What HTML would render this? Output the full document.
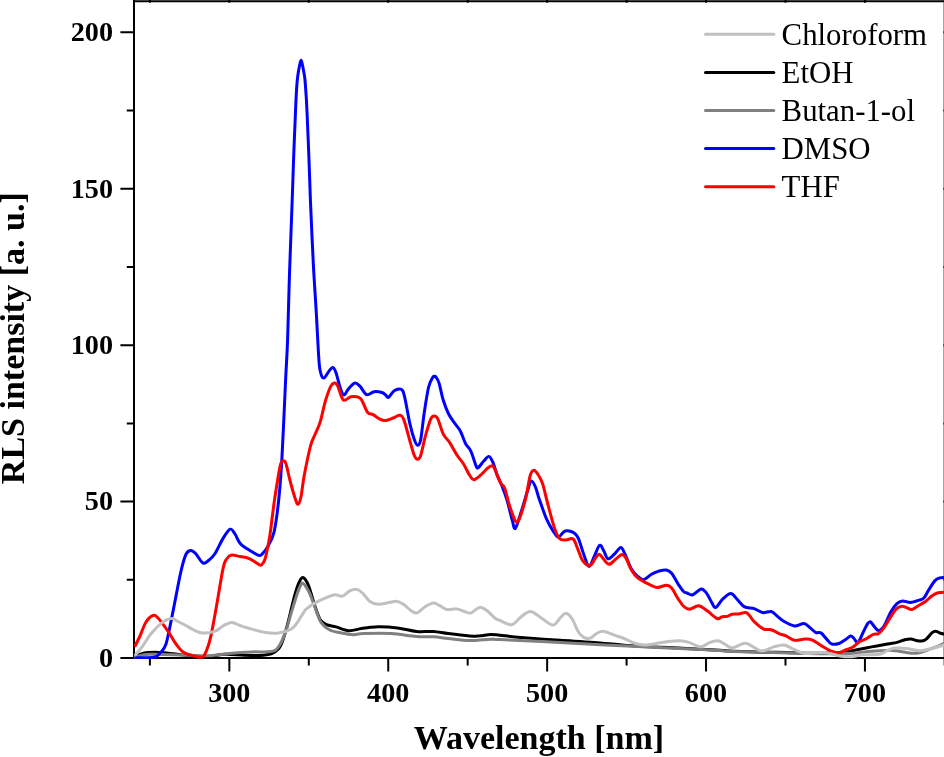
<!DOCTYPE html>
<html lang="en"><head><meta charset="utf-8"><title>RLS intensity vs wavelength</title>
<style>html,body{margin:0;padding:0;background:#fff}body{width:944px;height:757px;overflow:hidden}svg{display:block}text{font-family:"Liberation Serif","Times New Roman",serif;fill:#000}.tk{font-weight:bold;font-size:28.2px}.ax{font-weight:bold;font-size:34px}.lg{font-size:30.8px}.c{fill:none;stroke-width:3;stroke-linejoin:round;stroke-linecap:butt}</style></head><body>
<svg width="944" height="757" viewBox="0 0 944 757">
<rect width="944" height="757" fill="#fff"/>
<g stroke="#000" stroke-width="2" fill="none">
<path d="M133.00 1.25H945.5M944.65 0V665.4"/>
<path d="M134.00 0V659.05"/>
<path d="M120.4 658.05H946"/>
<path d="M120.4 501.62H134.00M120.4 345.20H134.00M120.4 188.77H134.00M120.4 32.35H134.00M126.8 579.84H134.00M126.8 423.41H134.00M126.8 266.99H134.00M126.8 110.56H134.00M229.34 658.05V671.6M388.24 658.05V671.6M547.14 658.05V671.6M706.04 658.05V671.6M864.94 658.05V671.6M149.89 658.05V665.4M308.79 658.05V665.4M467.69 658.05V665.4M626.59 658.05V665.4M785.49 658.05V665.4M943.45 579.84H946M943.45 501.62H946M943.45 423.41H946M943.45 345.20H946M943.45 266.99H946M943.45 188.77H946M943.45 110.56H946M943.45 32.35H946M149.89 0V2.7M229.34 0V2.7M308.79 0V2.7M388.24 0V2.7M467.69 0V2.7M547.14 0V2.7M626.59 0V2.7M706.04 0V2.7M785.49 0V2.7M864.94 0V2.7"/>
</g>
<clipPath id="cp"><rect x="134" y="0" width="812" height="659.1"/></clipPath>
<g class="c" clip-path="url(#cp)">
<path d="M134.2 657.2C135.7 656.5 139.2 654.0 143.3 653.2C147.4 652.4 153.5 652.3 158.6 652.4C163.7 652.5 168.2 653.1 173.9 653.8C179.6 654.4 186.9 655.9 192.9 656.3C198.9 656.7 204.6 656.6 210.0 656.3C215.4 656.0 219.6 654.5 225.3 654.3C231.0 654.1 238.0 655.1 244.4 655.3C250.8 655.5 258.7 655.7 263.5 655.3C268.3 654.9 270.1 654.6 273.0 653.0C275.9 651.4 278.4 649.9 280.6 645.8C282.8 641.7 284.5 635.3 286.4 628.6C288.3 621.9 290.6 611.6 292.1 605.7C293.6 599.8 294.1 597.2 295.3 593.2C296.5 589.2 298.2 584.1 299.5 581.5C300.8 578.9 301.7 577.0 303.2 577.7C304.7 578.4 306.6 580.9 308.5 585.6C310.4 590.3 312.9 600.1 314.8 605.7C316.7 611.4 318.2 616.3 320.1 619.5C322.1 622.7 323.9 623.5 326.5 624.7C329.1 625.9 332.3 625.9 336.0 626.9C339.7 627.9 344.5 630.4 348.7 630.7C352.9 631.0 357.0 629.2 361.4 628.6C365.8 628.0 369.2 627.0 375.2 626.9C381.2 626.8 390.6 627.1 397.5 627.9C404.4 628.7 410.5 630.9 416.5 631.5C422.5 632.1 428.2 631.1 433.5 631.5C438.8 631.9 442.3 632.9 448.3 633.6C454.3 634.4 464.2 635.6 469.5 636.0C474.8 636.4 476.5 636.0 480.0 635.8C483.5 635.5 487.4 634.6 490.7 634.5C494.0 634.4 494.9 634.8 500.0 635.3C505.1 635.8 511.0 636.6 521.0 637.4C531.0 638.2 547.9 639.5 560.0 640.3C572.1 641.1 582.6 641.5 593.9 642.4C605.2 643.3 616.5 644.7 627.8 645.5C639.1 646.3 650.4 646.7 661.7 647.3C673.0 647.9 685.9 648.4 695.6 648.9C705.3 649.4 713.8 649.9 720.0 650.3C726.2 650.7 725.5 650.9 733.0 651.2C740.5 651.5 755.9 652.0 764.7 652.2C773.5 652.4 779.0 652.2 786.0 652.4C793.0 652.6 800.0 653.2 807.0 653.3C814.0 653.4 822.0 653.1 828.3 653.0C834.6 652.9 840.0 652.9 844.6 652.4C849.2 651.9 851.2 650.9 855.7 650.0C860.2 649.1 866.3 647.9 871.6 646.9C876.9 645.9 883.2 644.8 887.4 644.0C891.6 643.2 894.0 643.1 896.9 642.4C899.8 641.7 902.4 640.3 904.8 639.7C907.2 639.1 909.3 638.8 911.2 638.9C913.1 639.0 914.0 640.1 916.0 640.4C918.0 640.7 921.3 641.1 923.1 640.8C924.9 640.5 925.5 639.8 927.0 638.5C928.5 637.2 930.3 634.1 931.8 632.9C933.3 631.7 934.3 631.2 935.8 631.3C937.2 631.3 938.8 632.7 940.5 633.2C942.2 633.7 945.1 634.3 946.0 634.5" stroke="#000"/>
<path d="M134.2 657.4C136.7 656.9 140.2 654.6 149.0 654.3C157.8 653.9 176.8 655.1 187.0 655.3C197.2 655.5 203.0 656.0 210.0 655.7C217.0 655.4 222.2 654.0 229.2 653.4C236.2 652.8 245.0 652.2 252.0 651.9C259.0 651.6 266.7 652.4 271.1 651.5C275.6 650.6 276.3 649.9 278.7 646.7C281.1 643.5 283.3 638.0 285.4 632.4C287.5 626.8 289.4 619.0 291.1 613.3C292.9 607.6 294.4 602.4 295.9 598.0C297.3 593.6 298.6 589.4 299.8 587.0C301.0 584.6 301.6 582.4 303.2 583.4C304.8 584.4 307.4 588.6 309.5 593.0C311.6 597.4 313.9 605.0 315.9 609.9C317.8 614.8 318.9 619.2 321.2 622.6C323.5 626.0 326.5 628.3 329.7 630.0C332.9 631.7 336.4 632.0 340.3 632.8C344.2 633.6 349.1 634.6 353.0 634.7C356.9 634.8 357.2 633.8 363.6 633.6C370.0 633.4 382.3 633.1 391.1 633.6C399.9 634.1 409.4 635.9 416.5 636.4C423.6 636.9 428.2 636.4 433.5 636.8C438.8 637.1 442.3 637.9 448.3 638.5C454.3 639.1 462.4 640.5 469.5 640.6C476.6 640.7 485.6 639.4 490.7 639.2C495.8 639.0 488.4 639.1 500.0 639.6C511.6 640.1 538.7 641.3 560.0 642.4C581.3 643.5 605.2 645.0 627.8 646.1C650.4 647.2 680.2 648.5 695.6 649.2C711.0 649.9 713.8 650.1 720.0 650.5C726.2 650.9 718.5 650.9 733.0 651.4C747.5 651.9 787.6 653.1 807.0 653.5C826.4 653.9 838.7 653.9 849.5 653.5C860.3 653.1 865.3 651.7 871.6 651.2C877.9 650.7 883.5 650.5 887.4 650.4C891.3 650.3 891.3 650.2 895.3 650.7C899.3 651.2 907.2 652.9 911.2 653.2C915.2 653.5 916.2 653.3 919.1 652.7C922.0 652.1 925.4 650.7 928.6 649.6C931.8 648.5 935.2 647.3 938.1 646.1C941.0 644.9 944.7 643.1 946.0 642.5" stroke="#808080"/>
<path d="M134.7 657.8C136.4 657.8 141.6 657.9 145.0 657.8C148.4 657.7 152.9 657.8 155.4 657.0C157.9 656.2 158.2 655.2 160.0 653.0C161.8 650.8 163.9 650.4 166.0 644.0C168.1 637.6 169.9 626.4 172.4 614.4C174.9 602.4 178.5 582.1 180.8 572.0C183.1 561.9 184.4 557.6 186.1 554.0C187.8 550.4 189.3 550.4 191.0 550.4C192.7 550.4 194.0 551.9 196.0 554.0C198.0 556.1 200.9 562.1 203.1 563.1C205.3 564.1 207.1 561.5 209.0 560.0C210.9 558.5 212.3 557.6 214.7 554.0C217.1 550.4 220.6 542.2 223.2 538.1C225.8 534.0 228.2 529.9 230.2 529.2C232.2 528.5 233.3 531.6 235.0 534.0C236.7 536.4 237.8 540.7 240.2 543.4C242.6 546.1 246.5 548.4 249.7 550.4C252.9 552.4 257.0 555.1 259.2 555.5C261.4 555.9 261.6 554.5 263.0 553.0C264.4 551.5 265.8 550.1 267.7 546.6C269.6 543.1 272.3 539.6 274.1 531.8C275.9 524.0 277.4 512.2 278.7 500.0C280.0 487.8 280.8 478.2 281.9 458.6C283.0 439.0 284.6 402.2 285.5 382.4C286.4 362.6 286.9 358.1 287.6 340.0C288.3 321.9 288.7 297.3 289.5 274.0C290.3 250.7 291.5 219.6 292.2 200.0C292.9 180.4 293.2 170.6 293.7 156.3C294.2 142.0 295.0 124.0 295.4 114.0C295.8 104.0 295.9 101.7 296.2 96.0C296.5 90.3 296.9 84.2 297.3 80.0C297.7 75.8 298.2 73.2 298.6 70.5C299.1 67.8 299.6 65.3 300.0 63.6C300.4 61.9 300.7 60.2 301.1 60.2C301.5 60.2 301.8 62.2 302.2 63.8C302.6 65.4 302.9 67.3 303.4 69.8C303.8 72.3 304.4 74.8 304.9 79.0C305.3 83.2 305.7 89.2 306.1 95.0C306.5 100.8 306.6 102.7 307.1 114.0C307.6 125.3 308.6 148.3 309.1 162.6C309.7 176.9 309.7 183.2 310.4 200.0C311.1 216.8 312.3 244.0 313.3 263.4C314.3 282.8 315.6 300.0 316.5 316.3C317.4 332.6 318.3 351.8 319.0 361.2C319.7 370.6 320.1 369.8 320.6 372.5C321.2 375.2 321.6 376.4 322.3 377.2C323.0 378.0 323.8 378.4 324.8 377.5C325.8 376.6 327.2 373.5 328.5 371.8C329.8 370.1 331.6 367.3 332.8 367.5C334.1 367.7 334.8 369.4 336.0 372.8C337.2 376.2 338.9 384.0 340.2 387.7C341.5 391.4 342.6 394.8 344.0 395.0C345.4 395.2 346.8 390.7 348.6 388.7C350.4 386.7 353.1 383.4 355.0 383.0C356.9 382.6 358.4 384.7 360.3 386.6C362.2 388.6 364.4 393.9 366.7 394.7C369.0 395.5 371.6 392.1 374.1 391.7C376.7 391.3 380.1 392.0 382.0 392.5C383.9 393.0 384.4 394.0 385.5 394.8C386.6 395.6 387.1 398.1 388.5 397.4C389.9 396.7 392.2 392.2 394.2 390.8C396.2 389.4 398.9 388.5 400.6 389.2C402.3 389.9 402.6 389.2 404.2 395.1C405.8 401.0 408.4 417.3 410.1 424.7C411.8 432.1 413.1 436.2 414.3 439.6C415.5 443.0 416.4 445.3 417.5 445.3C418.6 445.3 419.6 445.0 420.7 439.6C421.8 434.2 422.9 421.7 424.2 413.0C425.5 404.3 427.1 393.4 428.5 387.5C429.9 381.6 431.7 379.2 432.7 377.4C433.7 375.6 433.9 376.6 434.4 376.5C434.9 376.4 435.1 375.9 435.9 377.0C436.7 378.1 437.9 379.4 439.1 383.3C440.3 387.2 441.7 395.2 443.3 400.3C444.9 405.4 446.7 410.1 448.6 414.0C450.6 417.9 453.1 420.8 455.0 423.6C456.9 426.4 458.5 427.6 460.3 431.0C462.1 434.4 463.9 440.3 465.6 443.7C467.4 447.1 469.1 447.4 470.8 451.1C472.6 454.8 474.9 463.2 476.1 466.0C477.4 468.8 477.1 468.4 478.3 467.6C479.6 466.8 481.8 463.2 483.6 461.3C485.4 459.4 487.3 456.1 488.9 456.4C490.5 456.6 491.7 459.6 493.1 462.8C494.5 466.0 495.9 471.8 497.3 475.5C498.7 479.2 500.0 480.9 501.6 485.0C503.2 489.1 505.1 494.0 506.9 499.8C508.7 505.6 510.8 515.2 512.2 520.0C513.6 524.8 513.8 529.7 515.3 528.3C516.8 526.9 519.1 518.3 521.2 511.8C523.3 505.3 526.3 494.3 528.0 489.2C529.7 484.1 530.0 481.4 531.3 481.0C532.5 480.6 534.2 484.1 535.5 487.1C536.8 490.1 537.4 493.6 539.2 499.0C541.1 504.4 544.3 513.9 546.6 519.2C548.9 524.5 551.0 527.8 553.0 530.8C555.0 533.8 556.5 537.0 558.3 537.2C560.1 537.4 562.0 533.0 563.6 531.9C565.2 530.8 566.0 530.6 567.8 530.8C569.6 531.0 572.4 531.8 574.2 533.0C576.0 534.2 576.8 534.8 578.4 538.3C580.0 541.8 581.9 549.5 583.7 554.2C585.5 558.9 587.2 566.0 589.0 566.4C590.8 566.8 592.5 559.8 594.3 556.3C596.1 552.8 598.0 546.2 599.6 545.3C601.2 544.4 602.4 548.8 603.8 551.0C605.2 553.2 606.2 558.3 608.0 558.8C609.8 559.3 612.3 556.1 614.4 554.2C616.5 552.3 619.0 547.4 620.8 547.4C622.6 547.4 623.2 550.6 625.0 554.2C626.8 557.8 629.3 565.3 631.4 569.0C633.5 572.7 635.6 574.6 637.7 576.4C639.8 578.2 641.7 580.0 644.0 579.6C646.3 579.2 649.0 575.7 651.5 574.3C654.0 572.9 656.4 571.8 658.9 571.1C661.4 570.4 664.2 569.6 666.3 570.0C668.4 570.4 669.6 570.9 671.6 573.2C673.6 575.5 676.0 580.8 678.0 583.8C680.0 586.8 681.8 589.7 683.3 591.2C684.8 592.7 685.4 592.4 687.0 593.0C688.6 593.6 690.4 595.5 692.8 594.8C695.2 594.1 698.9 589.2 701.2 588.9C703.5 588.6 704.7 590.8 706.5 593.1C708.3 595.4 710.3 600.2 711.8 602.6C713.3 605.0 713.8 608.0 715.6 607.5C717.4 607.0 719.9 601.7 722.4 599.4C724.9 597.1 728.3 593.5 730.8 593.5C733.3 593.5 734.9 597.2 737.2 599.4C739.5 601.6 741.8 605.4 744.6 606.9C747.4 608.4 751.2 607.6 754.2 608.6C757.2 609.6 759.8 612.1 762.6 612.6C765.4 613.1 768.6 610.9 771.1 611.5C773.6 612.1 775.4 614.8 777.5 616.4C779.6 618.0 781.0 619.7 783.8 621.3C786.6 622.9 791.0 625.5 794.4 625.9C797.8 626.2 801.4 623.2 803.9 623.4C806.4 623.6 807.2 625.5 809.2 627.0C811.2 628.5 813.7 631.3 815.6 632.3C817.5 633.3 819.1 631.8 820.9 632.9C822.7 634.0 824.4 636.8 826.2 638.6C828.0 640.4 829.4 643.1 831.5 643.9C833.6 644.7 836.6 644.2 838.9 643.5C841.2 642.8 843.3 640.9 845.3 639.7C847.2 638.5 849.1 636.3 850.6 636.1C852.1 635.9 852.8 637.4 854.0 638.5C855.2 639.6 856.5 643.6 858.0 642.5C859.5 641.4 861.7 635.1 863.3 632.0C864.9 628.9 866.3 625.5 867.5 623.8C868.7 622.1 869.3 621.2 870.5 621.8C871.7 622.4 873.4 625.8 874.8 627.2C876.2 628.7 877.1 630.7 878.7 630.5C880.3 630.3 882.2 628.8 884.2 625.8C886.2 622.8 888.5 616.0 890.6 612.3C892.7 608.6 894.9 605.5 896.9 603.6C898.9 601.7 900.2 601.1 902.5 600.9C904.8 600.7 907.6 602.6 910.4 602.5C913.2 602.4 916.9 600.9 919.1 600.1C921.4 599.4 922.3 599.7 923.9 598.0C925.5 596.3 926.8 593.0 928.6 590.1C930.5 587.2 933.1 582.6 935.0 580.6C936.9 578.6 937.9 578.4 939.7 577.9C941.5 577.4 945.0 577.5 946.0 577.4" stroke="#0000ff"/>
<path d="M134.7 646.8C135.6 645.0 138.1 640.1 140.0 636.0C141.9 631.9 143.8 625.4 146.0 622.0C148.2 618.6 150.9 616.2 152.9 615.5C154.9 614.8 155.5 615.4 158.0 618.0C160.5 620.6 165.1 627.1 168.1 631.4C171.1 635.7 173.5 640.6 176.0 644.0C178.5 647.4 180.3 650.1 183.0 652.0C185.7 653.9 189.0 654.6 192.0 655.5C195.0 656.4 198.8 657.5 201.0 657.2C203.2 657.0 203.4 657.2 205.0 654.0C206.6 650.8 208.5 646.1 210.5 637.7C212.5 629.3 214.8 615.4 216.9 603.8C219.0 592.1 221.5 575.3 223.2 567.8C224.9 560.2 225.6 560.6 227.0 558.5C228.4 556.4 229.5 555.4 231.7 555.1C233.9 554.8 237.2 556.0 240.0 556.5C242.8 557.0 246.1 557.4 248.6 558.3C251.1 559.2 253.1 560.8 255.0 562.0C256.9 563.2 259.0 565.1 260.3 565.3C261.6 565.5 262.1 564.4 263.0 563.0C263.9 561.6 264.5 561.7 265.6 557.2C266.7 552.7 268.3 545.5 269.8 536.0C271.3 526.5 272.8 511.4 274.5 500.0C276.2 488.6 278.6 474.0 279.8 467.6C281.1 461.2 281.1 462.6 282.0 461.6C282.9 460.6 284.1 460.5 284.9 461.5C285.7 462.5 286.1 464.1 287.0 467.5C287.9 470.9 288.9 476.6 290.4 482.0C291.8 487.4 294.4 496.3 295.7 500.0C297.0 503.7 297.3 504.7 298.2 504.2C299.1 503.7 300.0 501.6 301.0 496.8C302.0 492.0 302.6 484.1 304.2 475.6C305.8 467.1 308.8 452.7 310.5 446.0C312.2 439.3 313.1 439.2 314.7 435.3C316.3 431.4 318.2 428.2 320.0 422.6C321.8 417.0 323.5 407.4 325.3 401.4C327.1 395.4 329.0 389.7 330.6 386.6C332.2 383.5 333.7 383.0 334.9 383.0C336.1 383.0 336.6 383.8 338.0 386.6C339.4 389.4 341.2 398.3 343.3 400.0C345.4 401.7 348.2 397.2 350.8 396.8C353.4 396.4 357.3 396.8 359.2 397.6C361.1 398.4 361.0 398.9 362.4 401.4C363.8 403.9 365.9 410.3 367.7 412.5C369.5 414.7 370.9 413.5 373.0 414.6C375.1 415.8 378.3 418.4 380.4 419.4C382.5 420.4 383.6 420.7 385.7 420.5C387.8 420.3 390.8 418.9 393.1 418.0C395.4 417.1 397.7 415.0 399.5 415.2C401.3 415.4 401.9 415.0 403.7 419.4C405.5 423.8 408.3 435.7 410.1 441.7C411.9 447.7 413.1 452.6 414.3 455.5C415.5 458.4 416.4 459.3 417.5 459.3C418.6 459.3 419.4 459.3 420.7 455.5C422.0 451.7 423.6 442.3 425.3 436.3C427.0 430.3 429.1 422.7 430.6 419.3C432.1 415.9 433.2 416.1 434.4 416.1C435.6 416.1 436.5 416.3 438.0 419.3C439.5 422.3 441.4 430.3 443.3 434.2C445.2 438.1 447.4 439.1 449.7 442.6C452.0 446.1 454.8 451.8 457.1 455.3C459.4 458.8 461.3 460.4 463.4 463.8C465.5 467.2 468.0 472.9 469.8 475.5C471.6 478.1 472.1 479.9 474.0 479.7C475.9 479.5 479.1 476.3 481.4 474.4C483.7 472.4 485.9 469.4 487.8 468.0C489.7 466.6 491.3 465.5 492.5 465.9C493.7 466.3 493.9 467.4 495.2 470.2C496.5 473.0 498.9 479.9 500.5 482.9C502.1 485.9 503.3 484.7 504.7 488.2C506.1 491.7 507.4 498.9 509.0 504.0C510.6 509.1 513.1 516.0 514.3 518.9C515.5 521.8 515.4 521.2 516.0 521.6C516.6 522.0 517.1 522.8 518.0 521.4C518.9 520.0 520.2 517.0 521.5 513.0C522.8 509.1 524.4 503.9 525.9 497.7C527.4 491.4 528.9 480.1 530.2 475.5C531.6 470.9 532.6 470.2 534.0 470.2C535.4 470.2 537.1 473.2 538.6 475.5C540.1 477.8 541.2 479.5 542.7 484.0C544.2 488.5 545.5 495.4 547.4 502.5C549.3 509.6 552.0 520.6 554.0 526.6C556.0 532.6 557.3 536.1 559.3 538.3C561.2 540.5 563.4 539.9 565.7 540.0C568.0 540.1 571.2 537.6 573.1 538.9C575.0 540.2 575.7 544.2 577.3 547.8C578.9 551.4 580.5 557.6 582.6 560.5C584.7 563.4 587.9 565.8 590.0 565.4C592.1 565.0 593.8 560.3 595.3 558.4C596.8 556.5 597.8 554.0 599.2 554.2C600.6 554.4 602.1 557.7 603.8 559.4C605.4 561.1 607.1 564.3 609.1 564.3C611.1 564.3 613.4 561.0 615.5 559.4C617.6 557.8 620.0 554.8 621.8 554.6C623.6 554.4 624.5 555.8 626.1 558.4C627.7 561.0 629.5 566.8 631.4 570.0C633.3 573.2 635.2 575.8 637.7 577.9C640.2 580.0 643.0 581.2 646.2 582.8C649.4 584.4 653.4 587.0 656.8 587.4C660.1 587.8 663.8 585.2 666.3 585.3C668.8 585.4 669.6 585.8 671.6 588.0C673.6 590.2 676.0 595.6 678.0 598.6C680.0 601.6 681.4 604.2 683.3 606.0C685.2 607.8 687.0 609.2 689.6 609.2C692.2 609.2 695.6 605.5 698.6 605.8C701.6 606.1 704.4 609.0 707.5 611.1C710.6 613.2 714.7 617.5 717.1 618.5C719.5 619.5 720.3 617.1 722.0 616.8C723.7 616.4 725.8 616.8 727.5 616.4C729.2 616.0 730.2 614.6 732.0 614.2C733.8 613.8 736.2 614.2 738.5 613.9C740.8 613.6 743.9 612.3 745.7 612.6C747.5 612.9 748.1 614.0 749.5 615.5C750.9 617.0 751.8 619.4 754.2 621.7C756.6 624.0 760.9 627.8 763.7 629.1C766.5 630.4 768.5 628.9 771.1 629.7C773.8 630.5 777.1 632.8 779.6 633.8C782.1 634.8 783.4 634.8 785.9 635.9C788.4 637.0 791.2 639.8 794.4 640.3C797.6 640.8 802.0 639.1 805.0 639.1C808.0 639.1 809.6 638.9 812.4 640.1C815.2 641.3 819.0 644.3 822.0 646.1C825.0 647.9 827.6 649.8 830.4 650.9C833.2 652.0 836.0 653.0 838.6 652.8C841.2 652.6 843.9 650.5 846.2 649.6C848.5 648.7 850.2 648.5 852.5 647.2C854.8 645.9 857.3 643.1 859.7 641.6C862.1 640.1 864.6 639.7 866.8 638.5C869.0 637.3 871.1 635.4 873.1 634.5C875.1 633.6 876.9 634.6 878.7 633.4C880.6 632.2 882.2 630.1 884.2 627.4C886.2 624.7 888.6 620.1 890.6 617.1C892.6 614.1 894.2 610.9 896.1 609.1C898.0 607.3 900.0 606.5 901.7 606.3C903.4 606.0 904.7 607.1 906.4 607.6C908.1 608.1 909.9 609.9 912.0 609.5C914.1 609.1 916.9 606.5 919.1 605.2C921.4 603.9 923.4 603.0 925.5 601.5C927.6 600.0 929.8 597.5 931.8 596.1C933.8 594.7 934.9 593.6 937.3 593.0C939.7 592.4 944.5 592.3 946.0 592.2" stroke="#ff0000"/>
<path d="M134.7 655.7C135.9 654.2 139.2 650.7 142.0 647.0C144.8 643.3 147.9 637.5 151.2 633.5C154.5 629.5 158.5 625.4 161.8 622.9C165.2 620.4 168.6 618.8 171.3 618.6C174.0 618.4 175.7 620.4 178.0 621.5C180.3 622.6 182.5 623.7 185.0 625.0C187.5 626.3 190.2 628.2 193.0 629.5C195.8 630.8 198.4 632.7 202.0 633.0C205.6 633.3 211.2 632.6 214.7 631.4C218.2 630.2 220.2 627.5 223.0 626.0C225.8 624.5 228.9 622.6 231.7 622.5C234.5 622.4 237.2 624.5 240.0 625.5C242.8 626.5 244.3 627.1 248.6 628.2C252.9 629.4 260.7 631.6 265.6 632.4C270.6 633.2 274.1 633.5 278.3 633.0C282.5 632.5 287.9 630.9 291.0 629.2C294.1 627.5 294.9 625.8 297.0 623.0C299.1 620.2 302.1 614.6 303.7 612.3C305.3 609.9 304.5 610.4 306.4 608.9C308.2 607.4 311.3 605.0 314.8 603.1C318.3 601.2 324.1 598.6 327.5 597.2C330.9 595.8 332.5 594.9 335.0 594.7C337.5 594.5 339.9 596.8 342.4 596.1C344.9 595.5 347.4 591.9 349.8 590.8C352.2 589.7 354.7 589.0 356.8 589.4C358.9 589.8 360.3 591.0 362.5 593.0C364.7 595.0 367.2 599.5 369.9 601.4C372.5 603.3 375.2 604.0 378.4 604.2C381.6 604.4 385.8 603.0 389.0 602.5C392.2 602.0 395.0 601.0 397.5 601.4C400.0 601.8 401.3 602.9 403.8 604.6C406.3 606.3 410.0 610.2 412.3 611.6C414.6 613.0 415.5 613.5 417.6 612.7C419.7 611.9 422.4 608.3 425.0 606.7C427.6 605.1 431.0 603.1 433.5 602.9C436.0 602.7 437.5 604.6 439.8 605.7C442.1 606.8 444.4 609.0 447.2 609.5C450.0 610.0 454.1 608.6 456.8 608.9C459.5 609.1 460.8 610.3 463.1 611.0C465.4 611.7 468.5 613.4 470.6 613.1C472.7 612.9 474.1 610.5 475.8 609.5C477.6 608.5 479.2 607.1 481.1 607.4C483.1 607.6 485.2 609.2 487.5 611.0C489.8 612.8 492.8 616.4 494.9 618.0C497.0 619.6 497.2 619.4 500.0 620.5C502.8 621.6 508.2 625.3 511.7 624.7C515.2 624.1 518.0 618.9 521.2 616.7C524.4 614.5 527.2 611.0 530.7 611.4C534.2 611.8 538.7 616.5 542.4 618.8C546.1 621.1 550.0 625.3 553.0 625.1C556.0 624.9 558.2 619.7 560.4 617.7C562.5 615.7 564.0 613.1 565.9 613.3C567.8 613.5 569.9 615.6 572.0 618.8C574.1 621.9 576.6 629.1 578.6 632.2C580.6 635.3 581.7 636.3 583.7 637.3C585.7 638.3 588.2 638.8 590.5 638.1C592.8 637.4 595.0 634.1 597.3 633.0C599.5 631.9 600.9 631.0 604.0 631.4C607.1 631.8 612.2 634.3 615.9 635.6C619.6 636.9 623.0 638.0 626.1 639.3C629.2 640.6 631.5 642.3 634.6 643.2C637.7 644.1 641.3 644.8 644.7 644.9C648.1 645.0 650.9 644.3 654.9 643.7C658.9 643.1 664.3 642.0 668.5 641.5C672.7 641.0 676.9 640.6 680.3 640.7C683.7 640.9 685.4 641.4 688.8 642.4C692.2 643.4 697.3 646.8 700.7 646.8C704.1 646.8 706.6 643.6 709.4 642.6C712.2 641.6 715.2 640.6 717.7 640.8C720.2 641.0 722.1 642.7 724.5 643.9C726.9 645.1 728.5 647.9 731.9 647.8C735.2 647.7 741.2 643.6 744.6 643.3C748.0 643.0 749.2 644.8 752.0 646.1C754.8 647.4 758.1 650.7 761.6 650.9C765.1 651.1 769.5 648.1 773.2 647.1C776.9 646.1 780.6 644.8 783.8 645.0C787.0 645.2 788.8 647.2 792.3 648.6C795.8 650.0 799.7 652.9 805.0 653.5C810.3 654.1 818.2 652.1 824.0 652.5C829.8 652.9 835.4 655.2 839.9 655.9C844.4 656.6 847.0 656.9 851.0 656.7C855.0 656.5 858.9 655.2 863.6 654.8C868.4 654.4 875.5 655.0 879.5 654.3C883.5 653.6 884.8 651.4 887.4 650.4C890.0 649.4 892.1 648.3 895.3 648.0C898.5 647.7 902.4 648.0 906.4 648.5C910.4 649.0 915.4 650.6 919.1 650.7C922.8 650.8 924.1 650.3 928.6 649.3C933.1 648.3 943.1 645.3 946.0 644.5" stroke="#c0c0c0"/>
</g>
<text class="tk" x="113" y="666.8" text-anchor="end">0</text>
<text class="tk" x="113" y="510.4" text-anchor="end">50</text>
<text class="tk" x="113" y="354.0" text-anchor="end">100</text>
<text class="tk" x="113" y="197.6" text-anchor="end">150</text>
<text class="tk" x="113" y="41.2" text-anchor="end">200</text>
<text class="tk" x="229.3" y="701.5" text-anchor="middle">300</text>
<text class="tk" x="388.2" y="701.5" text-anchor="middle">400</text>
<text class="tk" x="547.1" y="701.5" text-anchor="middle">500</text>
<text class="tk" x="706.0" y="701.5" text-anchor="middle">600</text>
<text class="tk" x="864.9" y="701.5" text-anchor="middle">700</text>
<text class="ax" x="539" y="749.2" text-anchor="middle">Wavelength [nm]</text>
<text class="ax" transform="translate(24 338.2) rotate(-90)" text-anchor="middle">RLS intensity [a. u.]</text>
<path d="M705.5 34.3H773.8" stroke="#c0c0c0" stroke-width="3" stroke-linecap="round"/>
<text class="lg" x="781.6" y="44.8">Chloroform</text>
<path d="M705.5 72.4H773.8" stroke="#000" stroke-width="3" stroke-linecap="round"/>
<text class="lg" x="781.6" y="82.9">EtOH</text>
<path d="M705.5 110.5H773.8" stroke="#808080" stroke-width="3" stroke-linecap="round"/>
<text class="lg" x="781.6" y="121.0">Butan-1-ol</text>
<path d="M705.5 148.6H773.8" stroke="#0000ff" stroke-width="3" stroke-linecap="round"/>
<text class="lg" x="781.6" y="159.1">DMSO</text>
<path d="M705.5 186.7H773.8" stroke="#ff0000" stroke-width="3" stroke-linecap="round"/>
<text class="lg" x="781.6" y="197.2">THF</text>
</svg></body></html>
